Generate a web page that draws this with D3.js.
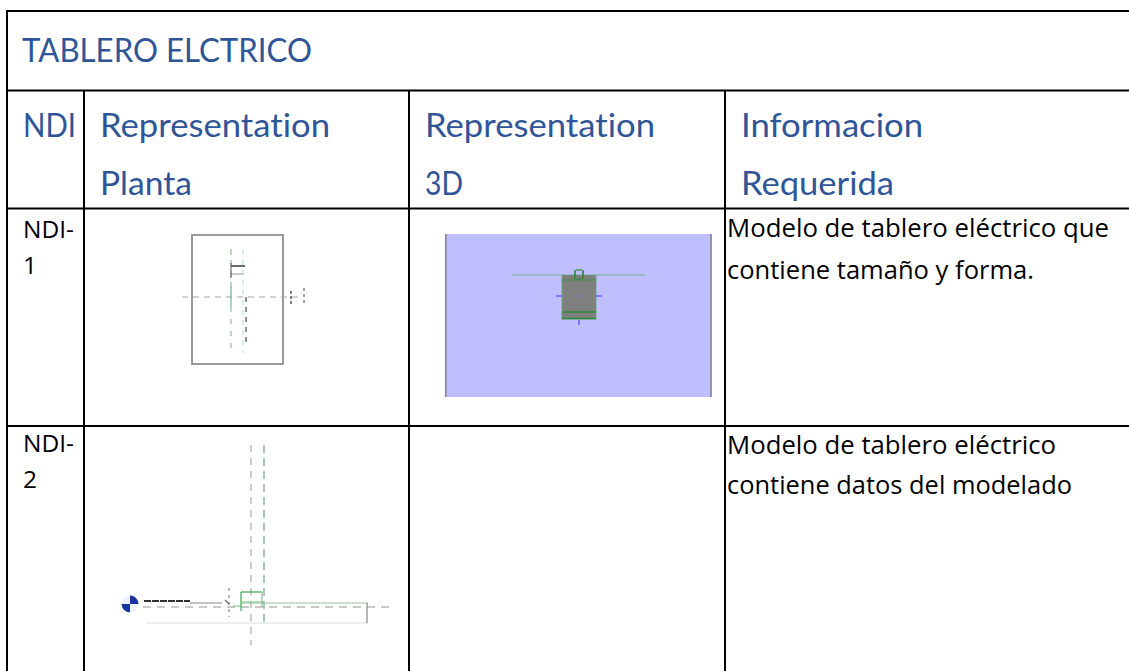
<!DOCTYPE html>
<html><head><meta charset="utf-8">
<style>html,body{margin:0;padding:0;background:#fff;overflow:hidden}svg{display:block}text{font-family:Lato,"Open Sans",sans-serif;font-variant-ligatures:none}.b{font-family:"Open Sans",sans-serif}</style>
<script src="https://cdn.jsdelivr.net/npm/d3@7"></script></head><body>
<script>
// ---- table content ----
const title = "TABLERO ELCTRICO";
const headers = [["NDI"],["Representation","Planta"],["Representation","3D"],["Informacion","Requerida"]];
const ids = [["NDI-","1"],["NDI-","2"]];
const infos = [["Modelo de tablero eléctrico que","contiene tamaño y forma."],["Modelo de tablero eléctrico","contiene datos del modelado"]];
// ---- drawing content (page-pixel units of the pictures) ----
const plan1Lines = [
 {p:[182,297,300,297],c:"#a5a5a5",w:1.2,d:"6 5"},
 {p:[231,249,231,295],c:"#7fc79a",w:1.2,d:"6 5"},
 {p:[231,286,231,307],c:"#7fc79a",w:1.4,d:""},
 {p:[231,307,231,353],c:"#7fc79a",w:1.2,d:"5 7"},
 {p:[243,250,243,353],c:"#bfe2d4",w:1.2,d:"5 5"},
 {p:[246,297,246,343],c:"#555",w:1.3,d:"5 5"},
 {p:[231,266,245,266],c:"#444",w:1.6,d:""},
 {p:[231,274,243,274],c:"#888",w:.9,d:""},
 {p:[231,263,231,278],c:"#666",w:1.1,d:""},
 {p:[291,291,291,305],c:"#555",w:1.5,d:"3 2"},
 {p:[304,288,304,305],c:"#666",w:1.2,d:"3 3"}];
const plan2Lines = [
 {p:[251,445,251,645],c:"#aaaaaa",w:1.2,d:"7 6"},
 {p:[264,445,264,625],c:"#7fb58f",w:1.4,d:"8 5"},
 {p:[143,607,392,607],c:"#949494",w:1.2,d:"8 6"},
 {p:[190,603,222,603],c:"#777",w:.9,d:""},
 {p:[241,603,368,603],c:"#8fb58f",w:.9,d:""},
 {p:[146,623,368,623],c:"#dedede",w:1.2,d:""},
 {p:[367,603,367,623],c:"#888",w:1.2,d:""},
 {p:[241,592,262,592],c:"#2f9745",w:1.1,d:""},
 {p:[241,592,241,611],c:"#2f9745",w:1.1,d:""},
 {p:[262,592,262,607],c:"#7fb58f",w:1.1,d:""},
 {p:[241,602,264,602],c:"#7fc78f",w:1.1,d:""},
 {p:[144,601,190,601],c:"#333",w:1.8,d:"7 1"},
 {p:[229,588,229,617],c:"#888",w:1.2,d:"3 4"},
 {p:[225,600,229,604],c:"#666",w:1.1,d:""},
 {p:[233,606,240,606],c:"#7fc78f",w:1.1,d:""}];
const view3dRects = [
 {r:[562,275,34,44],f:"#7f7f7f",s:"#5fa56f",w:.8}];
const view3dLines = [
 {p:[512,275,562,275],c:"#8fb5b5",w:1.4},{p:[596,275,645,275],c:"#8fb5b5",w:1.4},
 {p:[562,280,596,280],c:"#3e8f45",w:1.2},{p:[562,312,596,312],c:"#2f8a3a",w:1.6},
 {p:[562,318.5,596,318.5],c:"#2f8a3a",w:1.6},
 {p:[556,296,562,296],c:"#6f6fff",w:1.8},{p:[596,296,602,296],c:"#6f6fff",w:1.8},
 {p:[579,320,579,325],c:"#6f6fff",w:1.8},{p:[579,295,579,297],c:"#6f6fd0",w:1.5},
 {p:[445.8,234,445.8,397],c:"#8a8a9a",w:1.8},{p:[711,234,711,397],c:"#8a8a9a",w:1.8},
 {p:[575,270,575,279],c:"#2f8a3a",w:1.7},{p:[583,270,583,279],c:"#2f8a3a",w:1.7},
 {p:[576,270,582,270],c:"#2f8a3a",w:1.2},{p:[576,279,582,279],c:"#2f8a3a",w:1.2}];
const markerQuadrants = [0,1,2,3];

// ---- layout ----
const W=1129,H=671, colX=[7,84,409,725,1129], rowY=[11,90.5,208.5,426,671];
const blue="#2f5597", hx=[23,100,425,741], hy=[136.5,195], hs=33.5;
const fit={"Representation":230,"Planta":92,"3D":38,"Informacion":182,"Requerida":153,"NDI":53,
 "Modelo de tablero eléctrico que":382,"contiene tamaño y forma.":307,"Modelo de tablero eléctrico":329,"contiene datos del modelado":345};
const svg=d3.select("body").append("svg").attr("width",W).attr("height",H);
const defs=svg.append("defs");
defs.append("filter").attr("id","blur").append("feGaussianBlur").attr("stdDeviation",.7);
defs.append("filter").attr("id","soft").append("feGaussianBlur").attr("stdDeviation",.35);

const line=(g,data)=>g.selectAll(null).data(data).join("line")
 .attr("x1",d=>d.p[0]).attr("y1",d=>d.p[1]).attr("x2",d=>d.p[2]).attr("y2",d=>d.p[3])
 .attr("stroke",d=>d.c).attr("stroke-width",d=>d.w).attr("stroke-dasharray",d=>d.d||null);

// 3D view
const g3=svg.append("g").attr("filter","url(#soft)");
g3.append("rect").attr("x",446).attr("y",234).attr("width",265).attr("height",163).attr("fill","#bfbfff");
g3.selectAll(null).data(view3dRects).join("rect").attr("x",d=>d.r[0]).attr("y",d=>d.r[1]).attr("width",d=>d.r[2]).attr("height",d=>d.r[3]).attr("fill",d=>d.f).attr("stroke",d=>d.s).attr("stroke-width",d=>d.w);
line(g3,view3dLines);

// plan 1
const p1=svg.append("g").attr("filter","url(#blur)");
p1.append("rect").attr("x",192).attr("y",235).attr("width",91).attr("height",129).attr("fill","none").attr("stroke","#8f8f8f").attr("stroke-width",1.8);
line(p1,plan1Lines);

// plan 2
const p2=svg.append("g").attr("filter","url(#blur)");
line(p2,plan2Lines);
const arc=d3.arc().innerRadius(0).outerRadius(8.5);
p2.selectAll(null).data(markerQuadrants).join("path").attr("transform","translate(130,604)")
 .attr("d",q=>arc({startAngle:q*Math.PI/2,endAngle:(q+1)*Math.PI/2}))
 .attr("fill",q=>q%2?"#eef1fb":"#14349f");

// grid
const grid=svg.append("g").attr("stroke","#000").attr("stroke-width",2);
grid.selectAll(null).data(rowY.slice(0,4)).join("line").attr("x1",colX[0]-1).attr("x2",W).attr("y1",d=>d).attr("y2",d=>d);
grid.append("line").attr("x1",colX[0]).attr("x2",colX[0]).attr("y1",rowY[0]).attr("y2",H);
grid.selectAll(null).data(colX.slice(1,4)).join("line").attr("x1",d=>d).attr("x2",d=>d).attr("y1",rowY[1]).attr("y2",H);

// text
svg.append("text").attr("x",22).attr("y",62).attr("font-size",hs).attr("fill",blue).attr("textLength",290).attr("lengthAdjust","spacingAndGlyphs").text(title);
headers.forEach((h,i)=>h.forEach((t,j)=>svg.append("text").attr("x",hx[i]).attr("y",hy[j]).attr("font-size",hs).attr("fill",blue).attr("textLength",fit[t]).attr("lengthAdjust","spacingAndGlyphs").text(t)));
const idY=[[238,274],[452,488]], infoY=[[237,279],[454,494]];
ids.forEach((r,i)=>r.forEach((t,j)=>svg.append("text").attr("class","b").attr("x",23).attr("y",idY[i][j]).attr("font-size",24.5).attr("fill","#000").text(t)));
infos.forEach((r,i)=>r.forEach((t,j)=>svg.append("text").attr("class","b").attr("x",727).attr("y",infoY[i][j]).attr("font-size",25).attr("fill","#000").attr("textLength",fit[t]).attr("lengthAdjust","spacingAndGlyphs").text(t)));
</script></body></html>
